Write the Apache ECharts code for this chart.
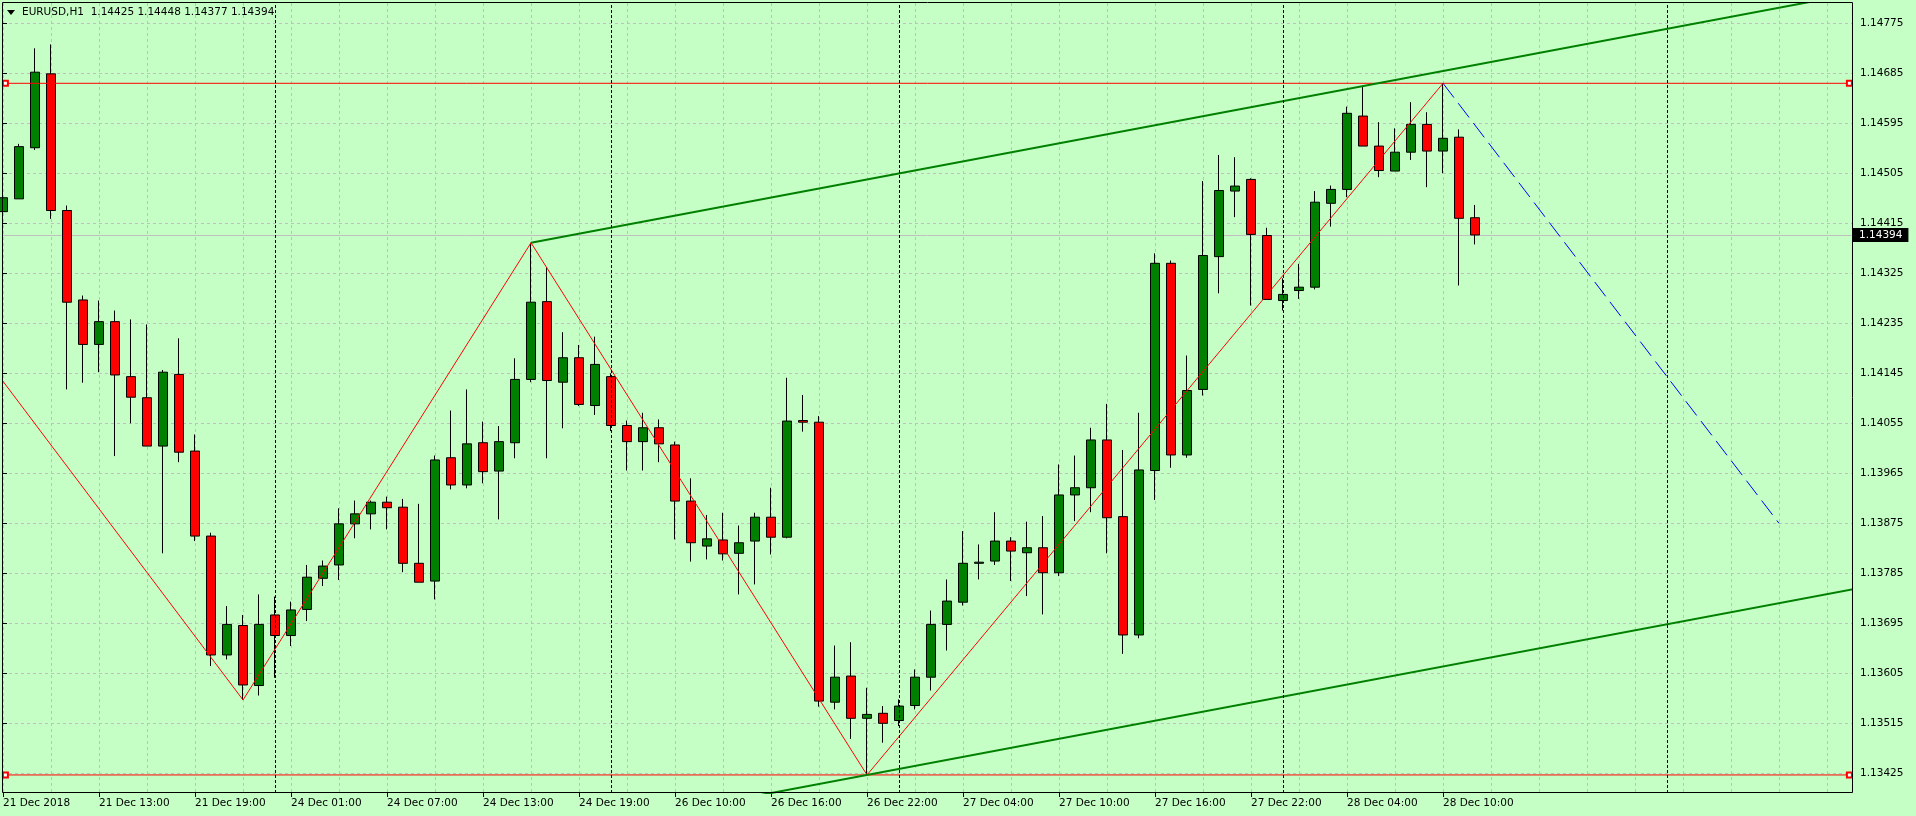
<!DOCTYPE html>
<html>
<head>
<meta charset="utf-8">
<title>EURUSD,H1</title>
<script src="https://cdn.jsdelivr.net/npm/echarts@6/dist/echarts.min.js"></script>
<style>
    html, body { margin: 0; padding: 0; background: #c6ffc6; }
    #chart { width: 1916px; height: 816px; }
</style>
</head>
<body>
<div id="chart"></div>
<script>
// EURUSD H1, bar 0 = 21 Dec 07:00
const opens = [
    1.14436, 1.14459, 1.14551, 1.14684, 1.14438, 1.14277, 1.14197, 1.14238, 1.14139, 1.14101,
    1.14014, 1.14143, 1.14005, 1.13852, 1.13638, 1.13691, 1.13583, 1.13710, 1.13673, 1.13720,
    1.13776, 1.13800, 1.13874, 1.13892, 1.13913, 1.13904, 1.13803, 1.13771, 1.13993, 1.13944,
    1.14020, 1.13969, 1.14020, 1.14134, 1.14274, 1.14129, 1.14173, 1.14087, 1.14139, 1.14051,
    1.14022, 1.14047, 1.14016, 1.13915, 1.13834, 1.13845, 1.13821, 1.13843, 1.13886, 1.13850,
    1.14060, 1.14057, 1.13553, 1.13600, 1.13524, 1.13533, 1.13520, 1.13547, 1.13598, 1.13693,
    1.13733, 1.13803, 1.13807, 1.13843, 1.13822, 1.13831, 1.13786, 1.13926, 1.13939, 1.14025,
    1.13887, 1.13674, 1.13970, 1.14343, 1.13998, 1.14116, 1.14355, 1.14473, 1.14494, 1.14393,
    1.14276, 1.14294, 1.14300, 1.14451, 1.14476, 1.14608, 1.14554, 1.14509, 1.14543, 1.14593,
    1.14545, 1.14570, 1.14425
];
const highs = [
    1.14495, 1.14558, 1.14730, 1.14737, 1.14447, 1.14285, 1.14276, 1.14258, 1.14242, 1.14233,
    1.14151, 1.14208, 1.14035, 1.13858, 1.13726, 1.13710, 1.13747, 1.13743, 1.13734, 1.13800,
    1.13808, 1.13902, 1.13916, 1.13916, 1.13923, 1.13919, 1.13910, 1.13997, 1.14078, 1.14116,
    1.14058, 1.14050, 1.14172, 1.14380, 1.14336, 1.14219, 1.14196, 1.14211, 1.14145, 1.14060,
    1.14074, 1.14062, 1.14022, 1.13956, 1.13890, 1.13894, 1.13871, 1.13894, 1.13939, 1.14137,
    1.14106, 1.14068, 1.13655, 1.13661, 1.13579, 1.13546, 1.13558, 1.13612, 1.13718, 1.13774,
    1.13861, 1.13837, 1.13895, 1.13850, 1.13878, 1.13888, 1.13981, 1.13997, 1.14047, 1.14090,
    1.14007, 1.14074, 1.14361, 1.14348, 1.14177, 1.14491, 1.14538, 1.14534, 1.14496, 1.14407,
    1.14316, 1.14342, 1.14473, 1.14483, 1.14625, 1.14662, 1.14597, 1.14586, 1.14633, 1.14615,
    1.14667, 1.14584, 1.14448
];
const lows = [
    1.14415, 1.14459, 1.14547, 1.14423, 1.14116, 1.14128, 1.14147, 1.13996, 1.14055, 1.14014,
    1.13821, 1.13985, 1.13843, 1.13618, 1.13630, 1.13557, 1.13565, 1.13597, 1.13654, 1.13699,
    1.13762, 1.13773, 1.13848, 1.13864, 1.13864, 1.13787, 1.13769, 1.13738, 1.13936, 1.13938,
    1.13947, 1.13882, 1.13992, 1.14129, 1.13992, 1.14046, 1.14086, 1.14070, 1.14041, 1.13970,
    1.13970, 1.13985, 1.13846, 1.13806, 1.13810, 1.13808, 1.13747, 1.13765, 1.13819, 1.13848,
    1.14040, 1.13545, 1.13540, 1.13487, 1.13422, 1.13480, 1.13510, 1.13540, 1.13574, 1.13646,
    1.13727, 1.13774, 1.13800, 1.13771, 1.13744, 1.13711, 1.13780, 1.13879, 1.13895, 1.13821,
    1.13640, 1.13668, 1.13917, 1.13975, 1.13993, 1.14105, 1.14289, 1.14426, 1.14267, 1.14278,
    1.14258, 1.14279, 1.14296, 1.14409, 1.14462, 1.14554, 1.14498, 1.14509, 1.14529, 1.14480,
    1.14505, 1.14303, 1.14377
];
const closes = [
    1.14461, 1.14553, 1.14687, 1.14438, 1.14273, 1.14197, 1.14238, 1.14142, 1.14102, 1.14014,
    1.14147, 1.14003, 1.13852, 1.13638, 1.13693, 1.13584, 1.13693, 1.13673, 1.13719, 1.13778,
    1.13798, 1.13874, 1.13892, 1.13913, 1.13903, 1.13803, 1.13769, 1.13989, 1.13944, 1.14018,
    1.13968, 1.14022, 1.14134, 1.14273, 1.14132, 1.14173, 1.14089, 1.14161, 1.14051, 1.14022,
    1.14047, 1.14018, 1.13915, 1.13840, 1.13847, 1.13820, 1.13840, 1.13886, 1.13850, 1.14059,
    1.14057, 1.13555, 1.13598, 1.13524, 1.13531, 1.13515, 1.13546, 1.13598, 1.13693, 1.13735,
    1.13803, 1.13805, 1.13843, 1.13825, 1.13831, 1.13786, 1.13926, 1.13939, 1.14025, 1.13885,
    1.13674, 1.13971, 1.14343, 1.13998, 1.14114, 1.14357, 1.14474, 1.14482, 1.14395, 1.14278,
    1.14287, 1.14300, 1.14453, 1.14476, 1.14613, 1.14554, 1.14510, 1.14543, 1.14593, 1.14545,
    1.14568, 1.14424, 1.14394
];

// time labels under every 6th bar
const tickBars = [0, 6, 12, 18, 24, 30, 36, 42, 48, 54, 60, 66, 72, 78, 84, 90];
const tickLabels = [
    '21 Dec 2018', '21 Dec 13:00', '21 Dec 19:00', '24 Dec 01:00', '24 Dec 07:00',
    '24 Dec 13:00', '24 Dec 19:00', '26 Dec 10:00', '26 Dec 16:00', '26 Dec 22:00',
    '27 Dec 04:00', '27 Dec 10:00', '27 Dec 16:00', '27 Dec 22:00', '28 Dec 04:00',
    '28 Dec 10:00'
];
// first bar of each day
const daySeparators = [17, 38, 56, 80, 104];

// price scale
const priceMin = 1.13425;
const priceMax = 1.14775;
const priceStep = 0.0009;

// zigzag: previous swing lies left of the chart
const zigzagStart = [-2, 1.14207];
const zigzagBars = [15, 33, 54, 90];
const zigzagKinds = ['low', 'high', 'low', 'high'];
// channel drawn through two highs, parallel through one low
const channelHighBars = [33, 85];
const channelLowBar = 54;
// blue dashed projection end
const projectionEnd = [111, 1.13875];
// horizontal level lines run between these bars
const levelSpan = [0.15, 115.4];

const last = opens.length - 1;
const font = 'DejaVu Sans';

// 16px per bar, grid spans bar 0 (x=3) .. right frame (x=1852)
const barsWide = 1849 / 16;
const pxPerPrice = 750 / (priceMax - priceMin);

const candles = opens.map((o, i) => [i, o, closes[i], lows[i], highs[i]]);
const zigzag = [zigzagStart].concat(zigzagBars.map((b, i) =>
    [b, zigzagKinds[i] === 'high' ? highs[b] : lows[b]]));

const h0 = channelHighBars[0], h1 = channelHighBars[1];
const slope = (highs[h1] - highs[h0]) / (h1 - h0);
const chanEnd = 125;
const upperLine = [[h0, highs[h0]], [chanEnd, highs[h0] + slope * (chanEnd - h0)]];
const lowerLine = [
    [h0, lows[channelLowBar] + slope * (h0 - channelLowBar)],
    [chanEnd, lows[channelLowBar] + slope * (chanEnd - channelLowBar)]
];
const topBar = zigzagBars[zigzagBars.length - 1];
const projection = [[topBar, highs[topBar]], projectionEnd];
const levelTop = levelSpan.map(x => [x, highs[topBar]]);
const levelBottom = levelSpan.map(x => [x, lows[channelLowBar]]);

const header = 'EURUSD,H1  ' +
    [opens[last], highs[last], lows[last], closes[last]].map(v => v.toFixed(5)).join(' ');

function levelSeries(name, data) {
    return {
        name: name,
        type: 'line', xAxisIndex: 0, yAxisIndex: 0, z: 3,
        symbol: 'emptyRect', symbolSize: 5, showAllSymbol: true,
        itemStyle: { color: '#ff0000' },
        lineStyle: { color: '#ff0000', width: 1 },
        data: data
    };
}

const chart = echarts.init(document.getElementById('chart'));
chart.setOption({
    animation: false,
    backgroundColor: '#c6ffc6',
    textStyle: { fontFamily: font },
    grid: [
        { left: 3, top: 3, width: 1849, height: 790, outerBoundsMode: 'none' },
        { left: 3, top: 23.3, width: 1849, height: 750, outerBoundsMode: 'none' }
    ],
    xAxis: [
        {
            type: 'value', gridIndex: 0, position: 'top',
            min: 0, max: barsWide, interval: 3,
            axisLine: { show: false }, axisTick: { show: false }, axisLabel: { show: false },
            splitLine: { show: true, lineStyle: { color: '#c0c0c0', type: [3, 3], width: 1 } }
        },
        {
            type: 'value', gridIndex: 0, position: 'bottom',
            min: 0, max: barsWide, interval: 6,
            axisLine: { show: false },
            axisTick: { show: true, length: 4, customValues: tickBars, lineStyle: { color: '#000' } },
            axisLabel: {
                show: true, customValues: tickBars, align: 'left', margin: 5,
                color: '#000', fontFamily: font, fontSize: 10.5,
                formatter: v => {
                    const i = tickBars.indexOf(v);
                    return i < 0 ? '' : tickLabels[i];
                }
            },
            splitLine: { show: false }
        },
        { type: 'value', gridIndex: 1, min: 0, max: 1, show: false }
    ],
    yAxis: [
        {
            type: 'value', gridIndex: 0, show: false,
            min: priceMin - (793 - 773.3) / pxPerPrice,
            max: priceMax + (23.3 - 3) / pxPerPrice
        },
        {
            type: 'value', gridIndex: 1, position: 'right',
            min: priceMin, max: priceMax, interval: priceStep,
            axisLine: { show: false },
            axisTick: { show: true, length: 4, lineStyle: { color: '#000' } },
            axisLabel: {
                color: '#000', fontFamily: font, fontSize: 10.5, margin: 8,
                formatter: v => v.toFixed(5)
            },
            splitLine: { show: true, lineStyle: { color: '#c0c0c0', type: [3, 3], width: 1 } }
        }
    ],
    series: [
        {
            name: 'separators',
            type: 'line', xAxisIndex: 0, yAxisIndex: 0, data: [], z: 1, clip: false,
            markLine: {
                silent: true, animation: false, symbol: 'none',
                label: { show: false },
                lineStyle: { color: '#000', type: [3, 2], width: 1 },
                data: daySeparators.map(k => ({ xAxis: k }))
            }
        },
        {
            name: 'EURUSD',
            type: 'candlestick', xAxisIndex: 0, yAxisIndex: 0,
            encode: { x: 0, y: [1, 2, 3, 4] },
            barWidth: 10, clip: false, z: 2,
            itemStyle: {
                color: '#008000', color0: '#ff0000',
                borderColor: '#000', borderColor0: '#000', borderWidth: 1
            },
            data: candles,
            markLine: {
                silent: true, animation: false, symbol: 'none', z: 1,
                lineStyle: { color: '#c0c0c0', type: 'solid', width: 1 },
                label: {
                    show: true, position: 'end', distance: 1,
                    formatter: () => closes[last].toFixed(5),
                    color: '#fff', backgroundColor: '#000',
                    padding: [2, 6, 1, 6], fontFamily: font, fontSize: 10.5
                },
                data: [[
                    { coord: [0, closes[last]] },
                    { coord: [barsWide, closes[last]] }
                ]]
            }
        },
        levelSeries('level high', levelTop),
        levelSeries('level low', levelBottom),
        {
            name: 'zigzag',
            type: 'line', xAxisIndex: 0, yAxisIndex: 0, z: 4,
            symbol: 'none', data: zigzag,
            lineStyle: { color: '#ff0000', width: 1 }
        },
        {
            name: 'channel top',
            type: 'line', xAxisIndex: 0, yAxisIndex: 0, z: 4,
            symbol: 'none', data: upperLine,
            lineStyle: { color: '#008000', width: 2 }
        },
        {
            name: 'channel bottom',
            type: 'line', xAxisIndex: 0, yAxisIndex: 0, z: 4,
            symbol: 'none', data: lowerLine,
            lineStyle: { color: '#008000', width: 2 }
        },
        {
            name: 'projection',
            type: 'line', xAxisIndex: 0, yAxisIndex: 0, z: 4,
            symbol: 'none', data: projection,
            lineStyle: { color: '#0000ff', width: 1, type: [18, 7] }
        }
    ],
    graphic: [
        {
            type: 'rect', silent: true, z: 100,
            shape: { x: 2.5, y: 2.5, width: 1850, height: 790 },
            style: { fill: null, stroke: '#000', lineWidth: 1 }
        },
        {
            type: 'polygon', silent: true, z: 100,
            shape: { points: [[7, 10], [15, 10], [11, 15]] },
            style: { fill: '#000' }
        },
        {
            type: 'text', silent: true, z: 100, left: 22, top: 7,
            style: { text: header, fill: '#000', font: '10.5px "DejaVu Sans"' }
        }
    ]
});
</script>
</body>
</html>
